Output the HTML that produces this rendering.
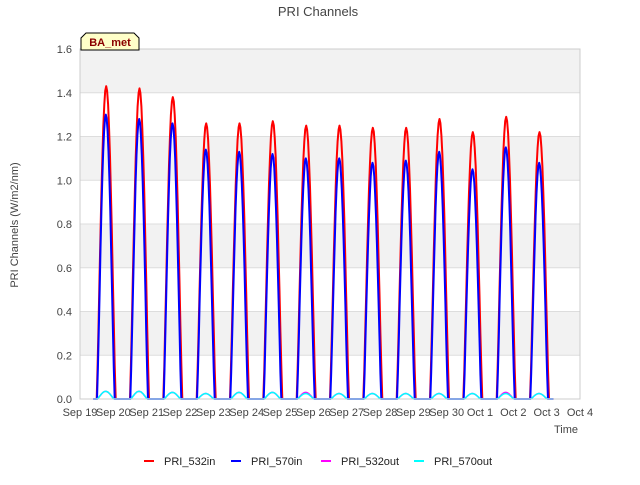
<!DOCTYPE html>
<html><head><meta charset="utf-8"><style>
body{margin:0;background:#fff;font-family:"Liberation Sans","DejaVu Sans",sans-serif}
</style></head><body>
<svg id="c" width="640" height="480" viewBox="0 0 640 480" xmlns="http://www.w3.org/2000/svg">
<text x="318" y="16" text-anchor="middle" font-size="13" fill="#444">PRI Channels</text>
<g id="bands"></g>
<g id="grid"></g>
<g id="series"></g>
<g id="axes"></g>
<text x="18" y="225" transform="rotate(-90 18 225)" text-anchor="middle" font-size="11" fill="#444">PRI Channels (W/m2/nm)</text>
<text x="566" y="433" text-anchor="middle" font-size="11" fill="#444">Time</text>
<g>
<path d="M81,50 L81,38 L86,33 L134,33 L139,38 L139,50 Z" fill="#ffffc8" stroke="#000" stroke-width="1"/>
<text x="110" y="46" text-anchor="middle" font-size="11" font-weight="bold" fill="#8b0000">BA_met</text>
</g>
<g id="legend"></g>
</svg>
<script>
const dayLabels=["Sep 19","Sep 20","Sep 21","Sep 22","Sep 23","Sep 24","Sep 25","Sep 26","Sep 27","Sep 28","Sep 29","Sep 30","Oct 1","Oct 2","Oct 3","Oct 4"];
const yTicks=[0,0.2,0.4,0.6,0.8,1.0,1.2,1.4,1.6];
const pri532in=[1.43,1.42,1.38,1.26,1.26,1.27,1.25,1.25,1.24,1.24,1.28,1.22,1.29,1.22];
const pri570in=[1.30,1.28,1.26,1.14,1.13,1.12,1.10,1.10,1.08,1.09,1.13,1.05,1.15,1.08];
const pri532out=[0.035,0.035,0.03,0.025,0.03,0.03,0.03,0.025,0.025,0.025,0.025,0.025,0.03,0.025];
const pri570out=[0.035,0.035,0.03,0.025,0.03,0.03,0.025,0.025,0.025,0.025,0.025,0.025,0.025,0.025];
const NS="http://www.w3.org/2000/svg";
const X0=80,X1=580,Y0=399,Y1=49;
const xs=d=>X0+(X1-X0)*d/15;
const ys=v=>Y0-(Y0-Y1)*v/1.6;
function mk(tag,attrs,parent){const e=document.createElementNS(NS,tag);for(const k in attrs)e.setAttribute(k,attrs[k]);parent.appendChild(e);return e;}
const bands=document.getElementById('bands'),grid=document.getElementById('grid'),axes=document.getElementById('axes'),series=document.getElementById('series'),legend=document.getElementById('legend');
mk('rect',{x:X0,y:Y1,width:X1-X0,height:Y0-Y1,fill:'#fff'},bands);
for(let i=0;i<8;i+=2){const r=mk('rect',{x:X0,y:ys(yTicks[i+2]),width:X1-X0,height:ys(yTicks[i+1])-ys(yTicks[i+2]),fill:'#f2f2f2'},bands);

}
yTicks.forEach(t=>{const l=mk('line',{x1:X0,x2:X1,y1:ys(t),y2:ys(t),stroke:'#ddd','stroke-width':1},grid);


const tx=mk('text',{x:X0-8,y:ys(t)+4,'text-anchor':'end','font-size':11,fill:'#444'},axes);tx.textContent=t.toFixed(1);

});
dayLabels.forEach((s,i)=>{const tx=mk('text',{x:xs(i),y:416,'text-anchor':'middle','font-size':11,fill:'#444'},axes);tx.textContent=s;

});
mk('rect',{x:X0,y:Y1,width:X1-X0,height:Y0-Y1,fill:'none',stroke:'#ccc'},axes);
function path(vals,start,width,off){let d='M'+xs(0.4)+','+ys(0);
vals.forEach((v,i)=>{const a=i+start,b=a+width;
d+=' L'+xs(a)+','+ys(0);
for(let k=0;k<=20;k++){const t=k/20;d+=' L'+xs(a+width*t).toFixed(1)+','+ys(v*Math.pow(Math.sin(Math.PI*t),1.2)).toFixed(1);}
d+=' L'+xs(b)+','+ys(0);});
d+=' L'+xs(14.2)+','+ys(0);return d;}
const defs=[["PRI_532in",pri532in,"#ff0000",0.5,0.57,2],["PRI_570in",pri570in,"#0000ff",0.51,0.53,2],["PRI_532out",pri532out,"#ff00ff",0.52,0.5,1.5],["PRI_570out",pri570out,"#00ffff",0.52,0.5,1.5]];
defs.forEach(([n,vals,col,st,w,sw])=>{const p=mk('path',{d:path(vals,st,w),fill:'none',stroke:col,'stroke-width':sw,'stroke-linejoin':'round'},series);

});
const lx=[144,231,321,414];
defs.forEach(([n,v,col],i)=>{const g=mk('g',{},legend);


mk('line',{x1:lx[i],x2:lx[i]+10,y1:461,y2:461,stroke:col,'stroke-width':2},g);
const t=mk('text',{x:lx[i]+20,y:465,'font-size':11,fill:'#222'},g);t.textContent=n;});
</script>
</body></html>
